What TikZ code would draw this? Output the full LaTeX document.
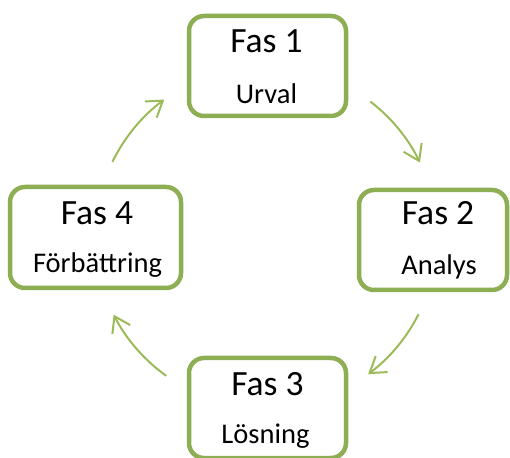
\documentclass[tikz,border=0pt]{standalone}
\usepackage{fontspec}
\setmainfont{Carlito}
\usetikzlibrary{arrows.meta,calc}
\definecolor{boxgreen}{HTML}{8DAE52}
\definecolor{arrgreen}{HTML}{9BBB59}
\tikzset{
  phasebox/.style={draw=boxgreen, line width=4.5pt, rounded corners=15pt, fill=white, inner sep=0pt},
  titletext/.style={anchor=base, inner sep=0pt, font=\fontsize{35.5}{40}\selectfont},
  subtext/.style={anchor=base, inner sep=0pt, font=\fontsize{28.5}{32}\selectfont},
  cyclearrow/.style={draw=arrgreen, line width=2pt, -{Straight Barb[length=15pt,width=20pt]}}
}
\begin{document}
\begin{tikzpicture}[x=1pt,y=1pt]
\useasboundingbox (0,0) rectangle (510,457);
% boxes
\node[phasebox, minimum width=157pt, minimum height=100pt] (b1) at (267.5,391) {};
\node[phasebox, minimum width=148pt, minimum height=100pt] (b2) at (433,217) {};
\node[phasebox, minimum width=157pt, minimum height=100pt] (b3) at (267.5,49) {};
\node[phasebox, minimum width=171pt, minimum height=101pt] (b4) at (95.5,219.5) {};
% texts
\node[titletext] (t1) at (266.5,404) {Fas 1};
\node[subtext] (s1) at (266.5,353) {Urval};
\node[titletext] (t2) at (438,232) {Fas 2};
\node[subtext] (s2) at (439,182) {Analys};
\node[titletext] (t3) at (267.5,62) {Fas 3};
\node[subtext] (s3) at (265.5,14) {Lösning};
\node[titletext] (t4) at (97,232) {Fas 4};
\node[subtext] (s4) at (97.5,184) {Förbättring};
% arrows
\coordinate (c) at (266,220);
\draw[cyclearrow] ($(c)+(52.4:171)$) arc[start angle=52.4, end angle=25.8, radius=171];
\draw[cyclearrow] ($(c)+(-26.9:171)$) arc[start angle=-26.9, end angle=-53.3, radius=171];
\draw[cyclearrow] ($(c)+(234.3:171)$) arc[start angle=234.3, end angle=207, radius=171];
\draw[cyclearrow] ($(c)+(153.9:171)$) arc[start angle=153.9, end angle=126.5, radius=171];
\end{tikzpicture}
\end{document}
